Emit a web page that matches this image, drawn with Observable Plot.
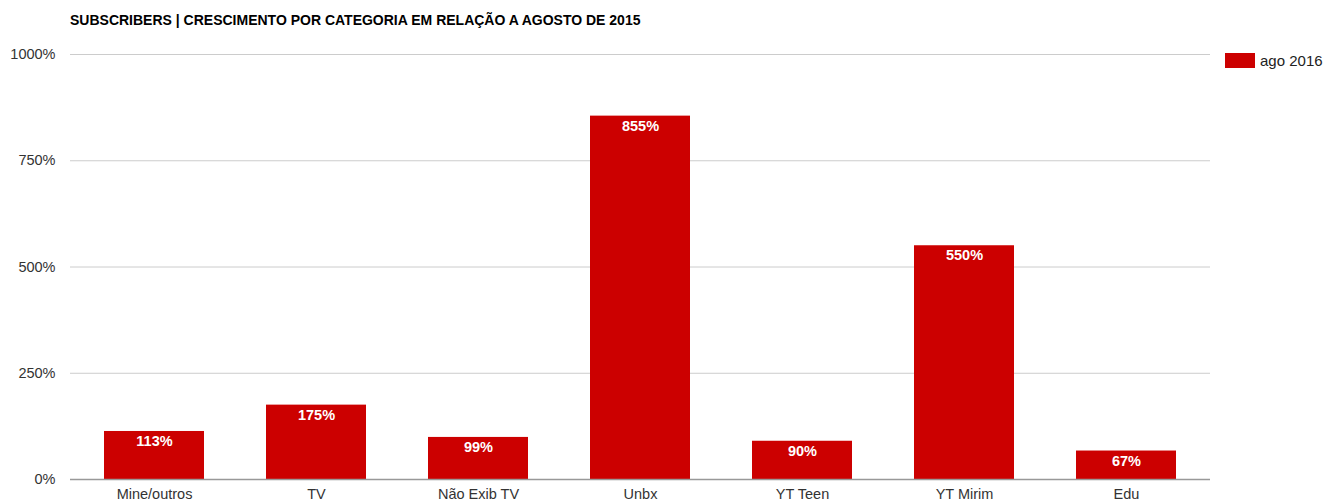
<!DOCTYPE html>
<html><head><meta charset="utf-8">
<script src="https://cdn.jsdelivr.net/npm/d3@7"></script>
<script src="https://cdn.jsdelivr.net/npm/@observablehq/plot@0.6"></script>
<style>
body{margin:0;background:#fff;font-family:"Liberation Sans",Arial,sans-serif;}
#wrap{position:relative;width:1324px;height:502px;}
#title{position:absolute;left:70px;top:12px;font-size:14px;font-weight:bold;color:#000;white-space:nowrap;}
#legend{position:absolute;left:1225px;top:52px;font-size:15px;color:#222;display:flex;align-items:center;white-space:nowrap;}
#legend span.sw{display:inline-block;width:30px;height:15px;background:#cc0000;margin-right:5px;}
#chart{position:absolute;left:0;top:0;}
</style></head>
<body><div id="wrap"><div id="chart"></div>
<div id="title">SUBSCRIBERS | CRESCIMENTO POR CATEGORIA EM RELAÇÃO A AGOSTO DE 2015</div>
<div id="legend"><span class="sw"></span>ago 2016</div></div>
<script>
const categories = ["Mine/outros","TV","Não Exib TV","Unbx","YT Teen","YT Mirim","Edu"];
const values = [113,175,99,855,90,550,67];
const yTicks = [0,250,500,750,1000];
const seriesName = "ago 2016";
const data = categories.map((c,i)=>({cat:c,value:values[i]}));
const chart = Plot.plot({
  width:1324, height:502,
  marginLeft:70, marginRight:114, marginTop:54, marginBottom:23,
  style:{fontFamily:"'Liberation Sans',Arial,sans-serif",fontSize:"14.5px",color:"#333",background:"transparent"},
  x:{domain:categories, paddingInner:0.38, paddingOuter:0.19, label:null, tickSize:0, tickPadding:9},
  y:{domain:[0,1000], ticks:yTicks, tickFormat:d=>d+"%", label:null, tickSize:0, tickPadding:15},
  marks:[
    Plot.gridY(yTicks,{stroke:"#ccc",strokeOpacity:1}),
    Plot.barY(data,{x:"cat",y:"value",fill:"#cc0000"}),
    Plot.ruleY([0],{stroke:"#999",strokeWidth:1.5}),
    Plot.text(data,{x:"cat",y:"value",text:d=>d.value+"%",dy:10,fill:"white",fontWeight:"bold",fontSize:14.5})
  ]
});
document.getElementById("chart").appendChild(chart);
</script></body></html>
